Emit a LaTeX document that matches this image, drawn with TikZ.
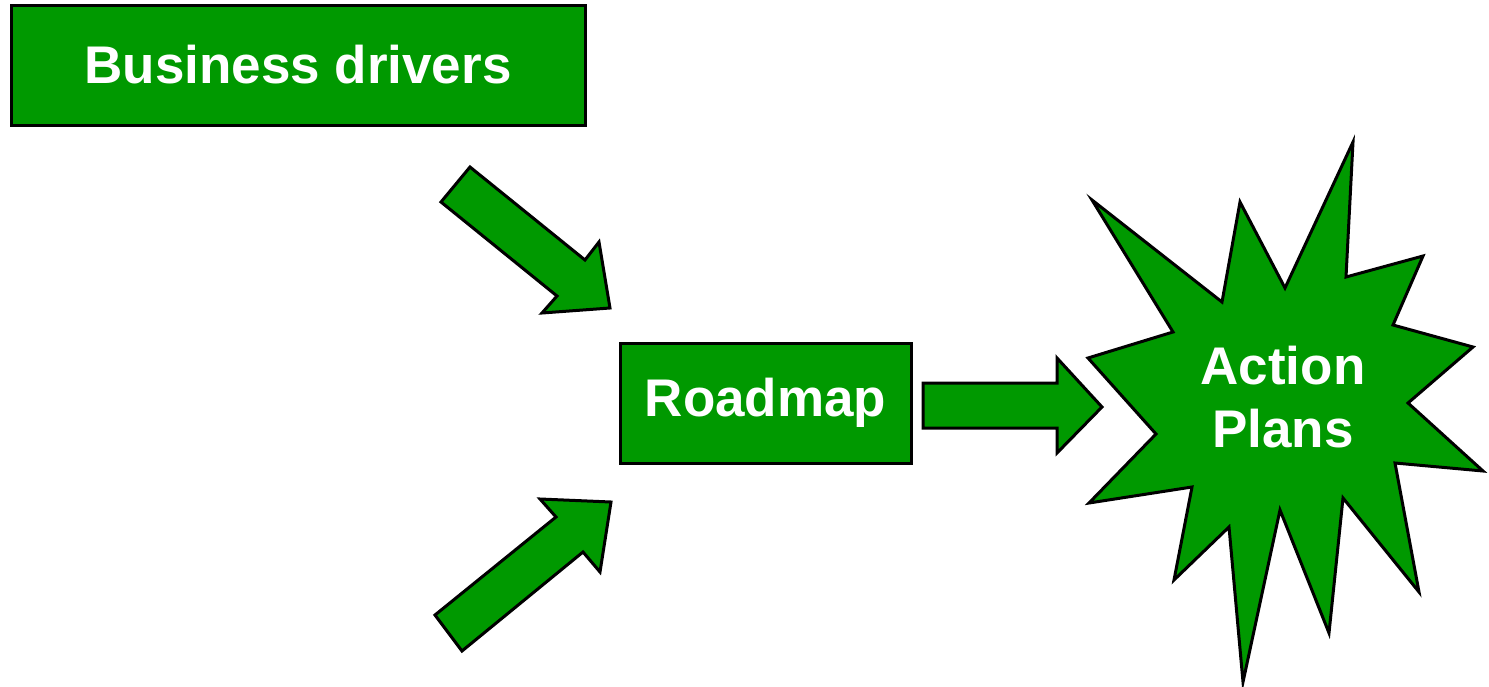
\documentclass[tikz,border=0pt]{standalone}
\usepackage{fontspec}
\setmainfont{Liberation Sans}
\definecolor{boxgreen}{HTML}{009900}
\begin{document}
\begin{tikzpicture}[x=1pt,y=-1pt,
  greenshape/.style={fill=boxgreen,draw=black,line width=3pt,line join=miter},
  greenbox/.style={greenshape,rectangle,inner sep=0pt,text=white,font=\fontsize{53}{63}\selectfont\bfseries},
  lbl/.style={text=white,font=\fontsize{53}{63}\selectfont\bfseries,align=center}]
\useasboundingbox (0,0) rectangle (1489,686);
% boxes
\node[greenbox,minimum width=574pt,minimum height=120pt] (drivers) at (298,65) {Business drivers};
\node[greenbox,minimum width=291pt,minimum height=120pt] (roadmap) at (765.5,403) {Roadmap};
% block arrows
\draw[greenshape] (470,167) -- (585,260) -- (599,242) -- (610,308) -- (542,313) -- (557,296) -- (441,202) -- cycle;
\draw[greenshape] (435,615) -- (556,517) -- (540,499) -- (611,502) -- (600,572) -- (583,552) -- (462,651) -- cycle;
\draw[greenshape] (923,383) -- (1057,383) -- (1057,358) -- (1102,407) -- (1057,453) -- (1057,428) -- (923,428) -- cycle;
% star
\draw[greenshape] (1092,200) -- (1222,302) -- (1240,202) -- (1285,288) -- (1353,142) -- (1346,277)
  -- (1423,256) -- (1393,325) -- (1473,347) -- (1408,403) -- (1483,471) -- (1395,463)
  -- (1419,592) -- (1343,498) -- (1329,633) -- (1280,510) -- (1243,682) -- (1229,527)
  -- (1174,580) -- (1192,487) -- (1089,503) -- (1156,434) -- (1088,358) -- (1173,332) -- cycle;
\node[lbl] (action) at (1283,397) {Action\\Plans};
\end{tikzpicture}
\end{document}
